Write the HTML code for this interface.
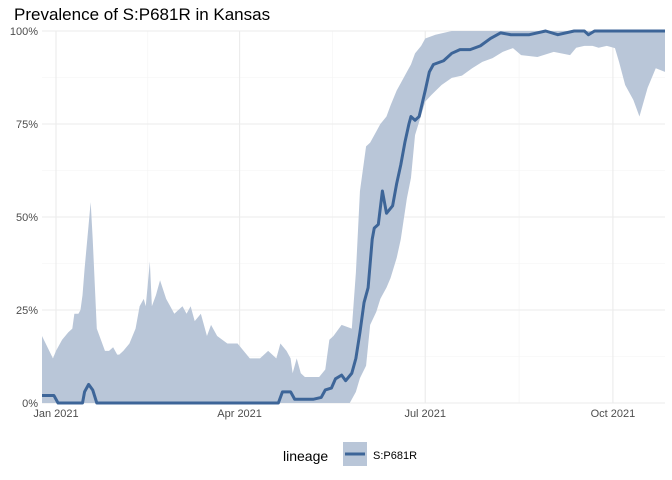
<!DOCTYPE html>
<html><head><meta charset="utf-8"><style>
body{margin:0;background:#fff;}
svg{display:block;font-family:"Liberation Sans",Arial,sans-serif;}
</style></head><body>
<svg id="c" width="672" height="480">
<rect width="672" height="480" fill="#fff"/>
<g id="grid"></g>
<g id="band"></g>
<g id="line"></g>
<g id="axes"></g>
<text x="14" y="20" font-size="17" fill="#000">Prevalence of S:P681R in Kansas</text>
<g>
<text x="283" y="461" font-size="14" fill="#000">lineage</text>
<rect x="343" y="442" width="24" height="24" fill="#b9c6d8"/>
<line x1="345" y1="454" x2="365" y2="454" stroke="#3d6598" stroke-width="3"/>
<text x="373" y="459" font-size="11" fill="#000">S:P681R</text>
</g>
</svg>
<script>
const hiDays=[-7,-1.5,0,3,6,8,9,11,12,13,14,16,17,18,20,22,24,26,28,30,31,33,36,39,41,43,44,46,47,49,51,54,56,58,62,64,66,68,71,74,76,79,84,89,95,100,104,108,110,113,115,116,118,120,122,129,132,134,136,140,145,147,149,152,154,157,159,162,164,167,169,172,174,176,179,181,186,194,300];
const hiVals=[18,12,14,17,19,20,24,24,25,29,36,48,54,44,20,17,14,14,15,13,13,14,16,20,26,28,26,38,26,29,33,28,26,24,26,24,26,22,24,18,21,18,16,16,12,12,14,12,16,14,12,8,12,8,7,7,9,17,18,21,20,35,57,69,70,73,75,77,80,84,86,89,91,94,96,98,99,100,100];
const midDays=[-7,-1,1,13,14,16,18,20,109,111,115,117,120,126,130,132,135,137,140,142,145,147,149,151,153,155,156,158,160,162,165,167,169,171,173,174,176,178,181,183,185,190,194,198,203,208,213,218,223,232,240,246,254,259,261,264,300];
const midVals=[2,2,0,0,3,5,3.5,0,0,3,3,1,1,1,1.5,3.5,4,6.5,7.5,6,8,12,19,27,31,44,47,48,57,51,53,59,64,70,75,77,76,77,84,89,91,92,94,95,95,96,98,99.5,99,99,100,99,100,100,99,100,100];
const loDays=[-7,144,147,149,152,154,157,159,162,164,167,169,172,174,176,179,181,184,189,194,199,204,209,214,219,224,228,236,244,252,255,259,263,266,270,274,276,279,283,286,290,294,299,300];
const loVals=[0,0,3,6.7,10,21,24.5,28,31,33.6,39,44,55,60.5,72,77.4,81,82.8,85.5,87.4,88,90,91.7,92.7,94.4,95.4,93.5,93,94.4,93.5,95.5,96,96,95.5,96,95.4,91.7,85.5,81.5,77,84.7,90,89,83.6];
const yTicks=[0,25,50,75,100];
const yLabels=["0%","25%","50%","75%","100%"];
const xTickDays=[0,90,181,273];
const xLabels=["Jan 2021","Apr 2021","Jul 2021","Oct 2021"];
const xMinorDays=[45,135.5,227];

const NS="http://www.w3.org/2000/svg";
const X0=42,X1=665,Y0=403,Y1=31,PXD=2.04,XJAN=56;
const sx=d=>Math.max(X0,Math.min(X1,XJAN+d*PXD));
const sy=v=>Y0-v*(Y0-Y1)/100;
function mk(t,a,p){const e=document.createElementNS(NS,t);for(const k in a)e.setAttribute(k,a[k]);p.appendChild(e);return e;}
const grid=document.getElementById('grid'),axes=document.getElementById('axes');
for(let i=0;i<yTicks.length-1;i++){const v=(yTicks[i]+yTicks[i+1])/2;
 const l=mk('line',{x1:X0,x2:X1,y1:sy(v),y2:sy(v),stroke:'#f3f3f3','stroke-width':0.6},grid);
 
 }
xMinorDays.forEach(d=>{const l=mk('line',{x1:sx(d),x2:sx(d),y1:Y1,y2:Y0,stroke:'#f3f3f3','stroke-width':0.6},grid);
 
 });
yTicks.forEach((v,i)=>{const l=mk('line',{x1:X0,x2:X1,y1:sy(v),y2:sy(v),stroke:'#ebebeb','stroke-width':1.1},grid);
 
 
 const t=mk('text',{x:38,y:sy(v)+4,'text-anchor':'end','font-size':11,fill:'#4d4d4d'},axes);t.textContent=yLabels[i];
 
 });
xTickDays.forEach((d,i)=>{const l=mk('line',{x1:sx(d),x2:sx(d),y1:Y1,y2:Y0,stroke:'#ebebeb','stroke-width':1.1},grid);
 
 
 const t=mk('text',{x:sx(d),y:417,'text-anchor':'middle','font-size':11,fill:'#4d4d4d'},axes);t.textContent=xLabels[i];
 
 });
let pts=hiDays.map((d,i)=>sx(d)+','+sy(hiVals[i]));
for(let i=loDays.length-1;i>=0;i--)pts.push(sx(loDays[i])+','+sy(loVals[i]));
const poly=mk('polygon',{points:pts.join(' '),fill:'#b9c6d8'},document.getElementById('band'));


const pl=mk('polyline',{points:midDays.map((d,i)=>sx(d)+','+sy(midVals[i])).join(' '),fill:'none',stroke:'#3d6598','stroke-width':3,'stroke-linejoin':'round'},document.getElementById('line'));


</script>
</body></html>
